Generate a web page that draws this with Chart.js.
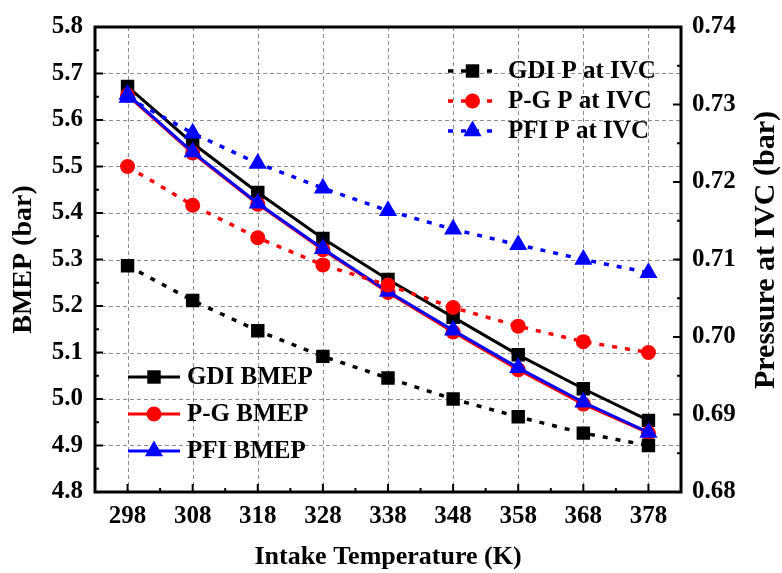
<!DOCTYPE html>
<html>
<head>
<meta charset="utf-8">
<script src="https://cdn.jsdelivr.net/npm/chart.js@4/dist/chart.umd.min.js"></script>
<style>
    html, body { margin: 0; padding: 0; background: #fff; }
    #wrap { width: 782px; height: 573px; position: relative; }
</style>
</head>
<body>
<div id="wrap"><canvas id="bmepChart"></canvas></div>
<script>
const temperatures = ['298', '308', '318', '328', '338', '348', '358', '368', '378'];

const gdiBmep = [5.672, 5.550, 5.444, 5.345, 5.257, 5.176, 5.095, 5.022, 4.954];
const pgBmep  = [5.653, 5.529, 5.419, 5.321, 5.229, 5.144, 5.063, 4.989, 4.927];
const pfiBmep = [5.655, 5.531, 5.421, 5.323, 5.231, 5.148, 5.067, 4.993, 4.928];

const gdiPivc = [0.7092, 0.7047, 0.7008, 0.6975, 0.6947, 0.6920, 0.6897, 0.6876, 0.6860];
const pgPivc  = [0.7220, 0.7170, 0.7128, 0.7093, 0.7067, 0.7038, 0.7014, 0.6994, 0.6980];
const pfiPivc = [0.7309, 0.7263, 0.7224, 0.7192, 0.7163, 0.7139, 0.7119, 0.7100, 0.7083];

const FONT = "'Liberation Serif', 'Times New Roman', serif";
const dotted = [5, 8];

function series(label, data, axis, color, shape, radius, dash) {
    return {
        label: label,
        data: data,
        yAxisID: axis,
        borderColor: color,
        backgroundColor: color,
        borderWidth: dash ? 3.5 : 3,
        borderDash: dash || [],
        pointStyle: shape,
        pointRadius: radius,
        pointHoverRadius: radius,
        pointBorderWidth: 0,
        tension: 0,
        fill: false
    };
}

// top-most first
const datasets = [
    series('PFI P at IVC', pfiPivc, 'y2', '#0000ff', 'triangle', 10.5, dotted),
    series('P-G P at IVC', pgPivc, 'y2', '#ff0000', 'circle', 7.5, dotted),
    series('GDI P at IVC', gdiPivc, 'y2', '#000000', 'rect', 9.5, dotted),
    series('PFI BMEP', pfiBmep, 'y', '#0000ff', 'triangle', 10.5),
    series('P-G BMEP', pgBmep, 'y', '#ff0000', 'circle', 7.5),
    series('GDI BMEP', gdiBmep, 'y', '#000000', 'rect', 9.5)
];

function isMajor(v, step) {
    const r = v / step;
    return Math.abs(r - Math.round(r)) < 1e-6;
}

function drawMarker(ctx, shape, x, y, r, color) {
    ctx.save();
    ctx.fillStyle = color;
    ctx.beginPath();
    if (shape === 'rect') {
        const s = r * Math.SQRT1_2;
        ctx.rect(x - s, y - s, 2 * s, 2 * s);
    } else if (shape === 'circle') {
        ctx.arc(x, y, r, 0, Math.PI * 2);
    } else {
        const a = Math.PI / 6;
        ctx.moveTo(x, y - r);
        ctx.lineTo(x + Math.cos(a) * r, y + Math.sin(a) * r);
        ctx.lineTo(x - Math.cos(a) * r, y + Math.sin(a) * r);
    }
    ctx.closePath();
    ctx.fill();
    ctx.restore();
}

// dashed grid, frame box, inward ticks, right title and the two legends
const framePlugin = {
    id: 'frame',
    beforeDatasetsDraw(chart) {
        const ctx = chart.ctx;
        const area = chart.chartArea;
        const x = chart.scales.x, y = chart.scales.y;
        ctx.save();
        ctx.strokeStyle = '#8c8c8c';
        ctx.lineWidth = 1;
        ctx.setLineDash([4, 3]);
        ctx.beginPath();
        temperatures.forEach((t, i) => {
            const px = Math.round(x.getPixelForValue(i)) + 0.5;
            ctx.moveTo(px, area.top); ctx.lineTo(px, area.bottom);
        });
        y.ticks.forEach((t, i) => {
            if (!isMajor(t.value, 0.1)) return;
            const py = Math.round(y.getPixelForTick(i)) + 0.5;
            ctx.moveTo(area.left, py); ctx.lineTo(area.right, py);
        });
        ctx.stroke();
        ctx.restore();
    },
    afterDraw(chart) {
        const ctx = chart.ctx;
        const area = chart.chartArea;
        const x = chart.scales.x, y = chart.scales.y, y2 = chart.scales.y2;

        ctx.save();
        ctx.strokeStyle = '#000';
        ctx.lineWidth = 2;
        ctx.beginPath();
        const step = x.getPixelForValue(1) - x.getPixelForValue(0);
        temperatures.forEach((t, i) => {
            const px = x.getPixelForValue(i);
            ctx.moveTo(px, area.bottom); ctx.lineTo(px, area.bottom - 8);
            if (i < temperatures.length - 1) {
                ctx.moveTo(px + step / 2, area.bottom); ctx.lineTo(px + step / 2, area.bottom - 4);
            }
        });
        y.ticks.forEach((t, i) => {
            const py = y.getPixelForTick(i);
            const len = isMajor(t.value, 0.1) ? 8 : 4;
            ctx.moveTo(area.left, py); ctx.lineTo(area.left + len, py);
        });
        y2.ticks.forEach((t, i) => {
            const py = y2.getPixelForTick(i);
            const len = isMajor(t.value, 0.01) ? 8 : 4;
            ctx.moveTo(area.right, py); ctx.lineTo(area.right - len, py);
        });
        ctx.stroke();

        ctx.lineWidth = 3;
        ctx.strokeRect(area.left, area.top, area.right - area.left, area.bottom - area.top);
        ctx.restore();

        // right axis title reads bottom-to-top like the left one
        ctx.save();
        ctx.translate(766, 250);
        ctx.rotate(-Math.PI / 2);
        ctx.font = 'bold 30px ' + FONT;
        ctx.fillStyle = '#000';
        ctx.textAlign = 'center';
        ctx.textBaseline = 'middle';
        ctx.fillText('Pressure at IVC (bar)', 0, 0);
        ctx.restore();

        const groups = [
            { names: ['GDI P at IVC', 'P-G P at IVC', 'PFI P at IVC'], x0: 448, x1: 497, tx: 508, ys: [71, 101, 131] },
            { names: ['GDI BMEP', 'P-G BMEP', 'PFI BMEP'], x0: 128, x1: 180, tx: 187, ys: [377, 414, 451] }
        ];
        ctx.save();
        ctx.font = 'bold 25px ' + FONT;
        ctx.textBaseline = 'middle';
        ctx.textAlign = 'left';
        groups.forEach(g => {
            g.names.forEach((name, k) => {
                const ds = chart.data.datasets.find(d => d.label === name);
                const ly = g.ys[k];
                ctx.save();
                ctx.strokeStyle = ds.borderColor;
                ctx.lineWidth = ds.borderWidth;
                ctx.setLineDash(ds.borderDash);
                ctx.beginPath();
                ctx.moveTo(g.x0, ly); ctx.lineTo(g.x1, ly);
                ctx.stroke();
                ctx.restore();
                drawMarker(ctx, ds.pointStyle, (g.x0 + g.x1) / 2, ly, ds.pointRadius, ds.backgroundColor);
                ctx.fillStyle = '#000';
                ctx.fillText(name, g.tx, ly + 1);
            });
        });
        ctx.restore();
    }
};

const tickFont = { family: FONT, size: 25, weight: 'bold' };

new Chart(document.getElementById('bmepChart'), {
    type: 'line',
    data: { labels: temperatures, datasets: datasets },
    options: {
        responsive: true,
        maintainAspectRatio: false,
        animation: false,
        layout: { padding: { top: 20, left: 0, right: 0, bottom: 0 } },
        plugins: {
            legend: { display: false },
            tooltip: { enabled: false }
        },
        scales: {
            x: {
                type: 'category',
                offset: true,
                afterFit: s => { s.height = 81; },
                grid: { display: false, drawTicks: false },
                border: { display: false },
                ticks: { color: '#000', font: tickFont, padding: 10, maxRotation: 0 },
                title: {
                    display: true, text: 'Intake Temperature (K)', color: '#000',
                    font: { family: FONT, size: 26, weight: 'bold' }, padding: { top: 4, bottom: 0 }
                }
            },
            y: {
                position: 'left',
                min: 4.8, max: 5.8,
                afterFit: s => { s.width = 95; },
                afterBuildTicks: s => {
                    const t = [];
                    for (let i = 0; i <= 20; i++) t.push({ value: +(4.8 + i * 0.05).toFixed(2) });
                    s.ticks = t;
                },
                grid: { display: false, drawTicks: false },
                border: { display: false },
                ticks: {
                    color: '#000', font: tickFont, padding: 12, autoSkip: false,
                    callback: v => (isMajor(v, 0.1) ? v.toFixed(1) : '')
                },
                title: {
                    display: true, text: 'BMEP (bar)', color: '#000',
                    font: { family: FONT, size: 28, weight: 'bold' }, padding: { top: 7, bottom: 0 }
                }
            },
            y2: {
                position: 'right',
                min: 0.68, max: 0.74,
                afterFit: s => { s.width = 101; },
                afterBuildTicks: s => {
                    const t = [];
                    for (let i = 0; i <= 12; i++) t.push({ value: +(0.68 + i * 0.005).toFixed(3) });
                    s.ticks = t;
                },
                grid: { display: false, drawTicks: false },
                border: { display: false },
                ticks: {
                    color: '#000', font: tickFont, padding: 11, autoSkip: false,
                    callback: v => (isMajor(v, 0.01) ? v.toFixed(2) : '')
                },
                title: { display: false }
            }
        }
    },
    plugins: [framePlugin]
});
</script>
</body>
</html>
